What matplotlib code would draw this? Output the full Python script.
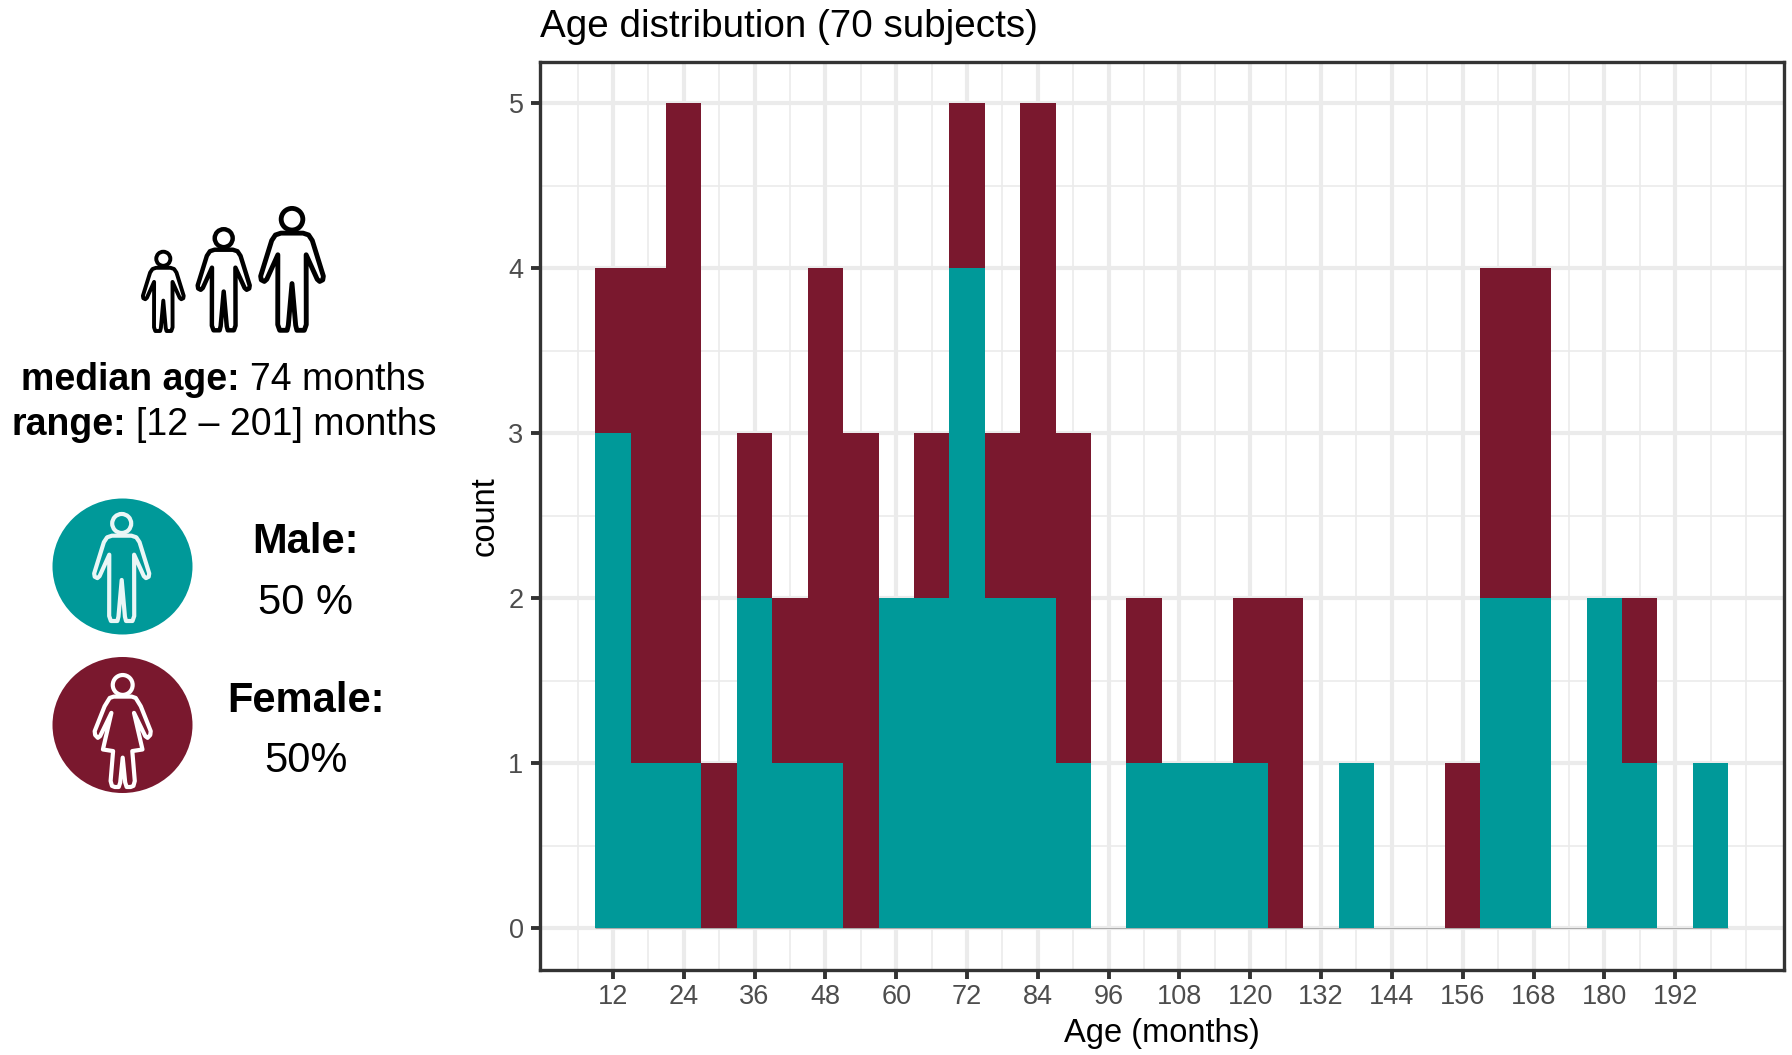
#!/usr/bin/python
# age histogram by sex, with the little summary panel on the left

import matplotlib
matplotlib.use('Agg')
import matplotlib.pyplot as plt
from matplotlib.patches import Ellipse, Circle, Polygon

plt.rcParams['font.family'] = ['Liberation Sans', 'DejaVu Sans']

TEAL = '#009999'
MAROON = '#7A182E'

# 6 month bins, centred on the multiples of 6
bin_centers = [12, 18, 24, 30, 36, 42, 48, 54, 60, 66, 72, 78, 84, 90, 96,
               102, 108, 114, 120, 126, 132, 138, 144, 150, 156, 162, 168,
               174, 180, 186, 192, 198]
male = [3, 1, 1, 0, 2, 1, 1, 0, 2, 2, 4, 2, 2, 1, 0,
        1, 1, 1, 1, 0, 0, 1, 0, 0, 0, 2, 2,
        0, 2, 1, 0, 1]
female = [1, 3, 4, 1, 1, 1, 3, 3, 0, 1, 1, 1, 3, 2, 0,
          1, 0, 0, 1, 2, 0, 0, 0, 0, 1, 2, 2,
          0, 0, 1, 0, 0]
bin_width = 6

x_major = [12, 24, 36, 48, 60, 72, 84, 96, 108, 120, 132, 144, 156, 168, 180, 192]
x_minor = [6, 18, 30, 42, 54, 66, 78, 90, 102, 114, 126, 138, 150, 162, 174, 186, 198, 204]
y_major = [0, 1, 2, 3, 4, 5]
y_minor = [0.5, 1.5, 2.5, 3.5, 4.5]

# person outlines, half the body only: (dx, dy) as a fraction of the height,
# the other half is mirrored
man_half = [(0, .21), (-.09, .21), (-.135, .225), (-.165, .27), (-.255, .56),
            (-.25, .59), (-.225, .603), (-.205, .585), (-.115, .386),
            (-.116, .954), (-.10, 1.0), (-.04, 1.0), (-.03, .96), (0, .62)]
woman_half = [(0, .2), (-.08, .2), (-.115, .212), (-.16, .285), (-.248, .506),
              (-.244, .54), (-.22, .565), (-.2, .55), (-.1, .344),
              (-.175, .668), (-.085, .682), (-.107, .947), (-.095, .99),
              (-.07, 1.0), (-.035, 1.0), (-.022, .96), (0, .74)]

W, H = 1792, 1055
LEFT, RIGHT, TOP, BOTTOM = 539.5, 1784, 62, 969.5


def draw_person(ax, half, cx, top, height, color, lw):
    mirrored = [(-dx, dy) for dx, dy in reversed(half[1:-1])]
    outline = [(cx + dx * height, top + dy * height) for dx, dy in half + mirrored]
    ax.add_patch(Polygon(outline, closed=True, fill=False, edgecolor=color,
                         linewidth=lw, joinstyle='round'))
    ax.add_patch(Circle((cx, top + .097 * height), .088 * height, fill=False,
                        edgecolor=color, linewidth=lw))


fig = plt.figure(figsize=(W / 100, H / 100), dpi=100)

ax = fig.add_axes([LEFT / W, (H - BOTTOM) / H, (RIGHT - LEFT) / W, (BOTTOM - TOP) / H])
ax.set_xlim(-0.45, 210.45)
ax.set_ylim(-0.25, 5.25)

ax.hlines(0, bin_centers[0] - bin_width / 2, bin_centers[-1] + bin_width / 2,
          color='#AAAAAA', linewidth=0.7, zorder=1.5)
ax.bar(bin_centers, male, width=bin_width, color=TEAL, linewidth=0, zorder=2)
ax.bar(bin_centers, female, width=bin_width, bottom=male, color=MAROON, linewidth=0, zorder=2)

ax.set_xticks(x_major)
ax.set_xticks(x_minor, minor=True)
ax.set_yticks(y_major)
ax.set_yticks(y_minor, minor=True)
ax.set_axisbelow(True)
ax.grid(which='major', color='#EBEBEB', linewidth=3)
ax.grid(which='minor', color='#EBEBEB', linewidth=1.2)
ax.tick_params(which='minor', length=0)
ax.tick_params(which='major', length=6.5, width=2.8, color='#333333',
               labelcolor='#4D4D4D', labelsize=19.5)
ax.tick_params(axis='x', pad=4)
ax.tick_params(axis='y', pad=5)
for spine in ax.spines.values():
    spine.set_color('#333333')
    spine.set_linewidth(2.4)

ax.set_title('Age distribution (70 subjects)', loc='left', fontsize=27.8, pad=18, color='black')
ax.set_xlabel('Age (months)', fontsize=23.5, labelpad=5.5, color='black')
ax.set_ylabel('count', fontsize=23.5, labelpad=5.5, color='black')

# left panel, drawn in pixel coordinates
side = fig.add_axes([0, 0, 1, 1], zorder=5)
side.set_xlim(0, W)
side.set_ylim(H, 0)
side.axis('off')

draw_person(side, man_half, 163.3, 251, 80, 'black', 2.8)
draw_person(side, man_half, 223.7, 228.3, 102, 'black', 3.2)
draw_person(side, man_half, 292, 207.3, 123, 'black', 3.5)

side.text(21, 390, 'median age:', fontsize=27, fontweight='bold', va='baseline')
side.text(250.5, 390, '74 months', fontsize=27, va='baseline')
side.text(11, 435, 'range:', fontsize=27, fontweight='bold', va='baseline')
side.text(136, 435, '[12 \u2013 201] months', fontsize=27, va='baseline')

side.add_patch(Ellipse((122.5, 566.5), 140, 136, facecolor=TEAL, edgecolor='none'))
side.add_patch(Ellipse((122.5, 725), 140, 136, facecolor=MAROON, edgecolor='none'))
draw_person(side, man_half, 121.7, 513, 108, '#EAF6F6', 3)
draw_person(side, woman_half, 122.7, 674, 113, 'white', 3)

side.text(305.5, 553, 'Male:', fontsize=30, fontweight='bold', ha='center', va='baseline')
side.text(305.5, 614, '50 %', fontsize=30, ha='center', va='baseline')
side.text(305.5, 711.5, 'Female:', fontsize=30, fontweight='bold', ha='center', va='baseline')
side.text(305.5, 772, '50%', fontsize=30, ha='center', va='baseline')

fig.savefig('out.png', dpi=100)
